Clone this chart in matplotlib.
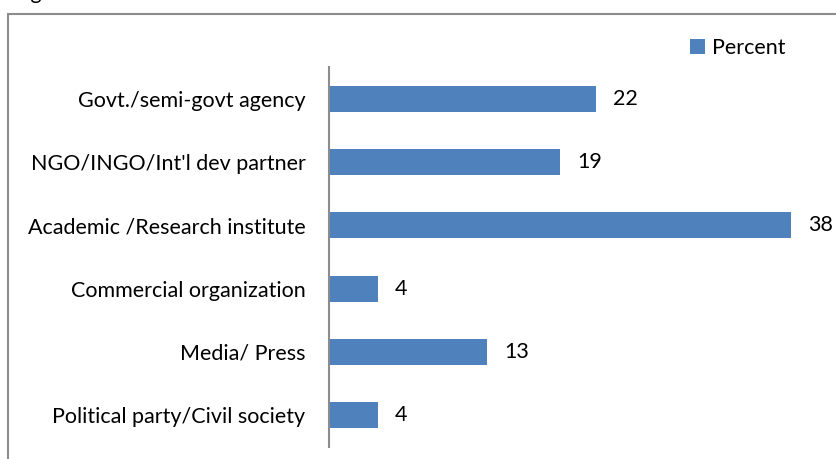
import matplotlib
matplotlib.use('Agg')
from matplotlib import pyplot as plt
from matplotlib.patches import Rectangle
import numpy as np

plt.rcParams['font.family'] = ['Lato', 'DejaVu Sans']

categories = ['Govt./semi-govt agency', "NGO/INGO/Int'l dev partner",
              'Academic /Research institute', 'Commercial organization',
              'Media/ Press', 'Political party/Civil society']
percent = [22, 19, 38, 4, 13, 4]

bar_color = '#4F81BD'
line_color = '#8C8C8C'
fs = 15.5

fig = plt.figure(figsize=(8.37, 4.59), dpi=100)

# outer chart frame, open at the right and bottom edges
fig.patches.append(Rectangle((8 / 837, -0.1), 1.2, 1 - 14 / 459 + 0.1,
                             transform=fig.transFigure, fill=False,
                             edgecolor=line_color, linewidth=1.5))
# caption above the frame, mostly cut off
fig.text(13 / 837, 1 + 1 / 459, 'Figure', fontsize=fs, va='baseline', ha='left')

ax = fig.add_axes([329 / 837, 1 - 447 / 459, (815 - 329) / 837, (447 - 67) / 459])
y = np.arange(len(categories))
bars = ax.barh(y, percent, height=0.41, color=bar_color, label='Percent')
for yi, v in zip(y, percent):
    ax.text(v + 1.4, yi, str(v), va='center', ha='left', fontsize=fs)

ax.set_xlim(0, 40)
ax.set_ylim(len(categories) - 0.5, -0.5)
ax.set_yticks(y)
ax.set_yticklabels(categories, fontsize=fs)
ax.tick_params(axis='y', length=0, pad=17)
ax.set_xticks([])
for side in ['top', 'right', 'bottom']:
    ax.spines[side].set_visible(False)
ax.spines['left'].set_color(line_color)
ax.spines['left'].set_linewidth(1.5)

fig.legend(handles=[bars], labels=['Percent'], loc='center left',
           bbox_to_anchor=(671 / 837, 1 - 48 / 459), frameon=False,
           fontsize=fs, handlelength=0.7, handleheight=0.7, handletextpad=0.3)

fig.savefig('out.png', dpi=100)
